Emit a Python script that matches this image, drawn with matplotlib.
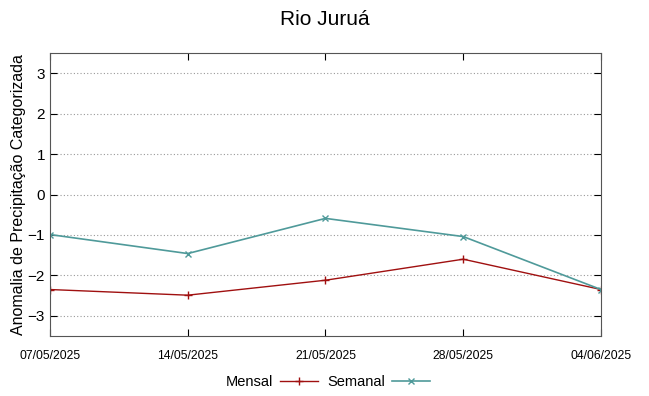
import numpy as np
from matplotlib import pyplot as plt

plt.rcParams['font.family'] = ['Liberation Sans', 'DejaVu Sans']

datas = ['07/05/2025', '14/05/2025', '21/05/2025', '28/05/2025', '04/06/2025']
mensal = [-2.35, -2.49, -2.12, -1.60, -2.35]
semanal = [-0.99, -1.46, -0.59, -1.04, -2.35]

fig = plt.figure(figsize=(6.49, 3.96), dpi=100)
ax = fig.add_axes([0.077, 0.1515, 0.849, 0.7145])

x = np.arange(len(datas))
ax.plot(x, mensal, color='#a01010', lw=1.0, marker='+', ms=6, mew=1.0, label='Mensal')
ax.plot(x, semanal, color='#4f9a9a', lw=1.2, marker='x', ms=5, mew=1.0, label='Semanal')

ax.set_xlim(0, 4)
ax.set_ylim(-3.5, 3.5)
ax.set_xticks(x)
ax.set_xticklabels(datas, fontsize=8.7)
ax.set_yticks(np.arange(-3, 4))
ax.tick_params(axis='y', labelsize=11, direction='in', right=True, length=5)
ax.tick_params(axis='x', direction='in', top=True, length=5, pad=10)
ax.yaxis.grid(True, linestyle=(0, (1, 2)), color='#999999', lw=0.8)
for s in ax.spines.values():
    s.set_color('#555555')

ax.set_ylabel('Anomalia de Precipitação Categorizada', fontsize=11.5, labelpad=1)
fig.suptitle('Rio Juruá', fontsize=15, y=0.975)

fig.legend(loc='center', bbox_to_anchor=(0.505, 0.035), ncol=2, frameon=False,
           markerfirst=False, fontsize=10.5, handlelength=2.6, handletextpad=0.5,
           columnspacing=0.6)

fig.savefig('out.png')
